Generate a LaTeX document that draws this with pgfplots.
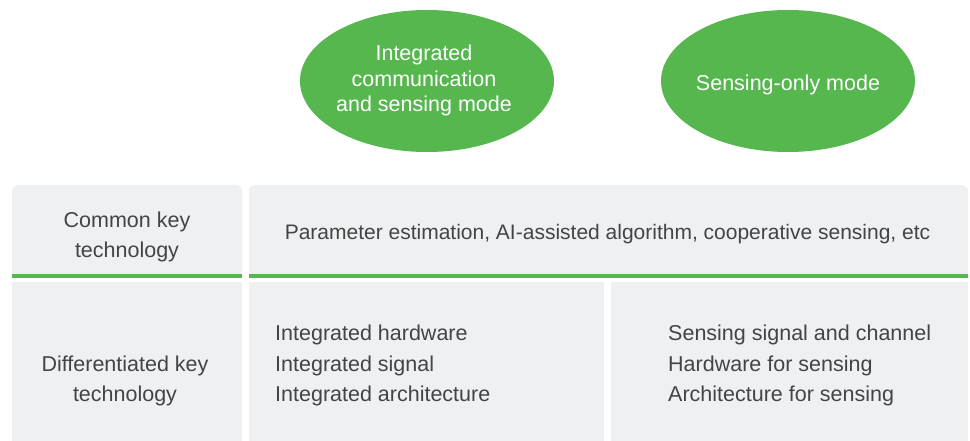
\documentclass[border=0pt]{standalone}
\usepackage{pgfplots}
\pgfplotsset{compat=1.18}
\usepackage{fontspec}
\setmainfont{Liberation Sans}
\definecolor{gfill}{HTML}{EFF0F2}
\definecolor{grn}{HTML}{55B74E}
\definecolor{txt}{HTML}{444444}
\begin{document}
\begin{tikzpicture}
\begin{axis}[width=970pt,height=441pt,scale only axis,
  xmin=0,xmax=970,ymin=0,ymax=441,y dir=reverse,
  axis lines=none,clip=false]
\path (axis cs:0,0) rectangle (axis cs:970,441);
% ellipses
\fill[grn] (axis cs:427,81) ellipse [x radius=127,y radius=71];
\fill[grn] (axis cs:788,81) ellipse [x radius=127,y radius=71];
% table cells
\fill[gfill] (axis cs:12,274) [rounded corners=6pt] -- (axis cs:12,185) -- (axis cs:242,185) [sharp corners] -- (axis cs:242,274) -- cycle;
\fill[gfill] (axis cs:249,274) [rounded corners=6pt] -- (axis cs:249,185) -- (axis cs:968,185) [sharp corners] -- (axis cs:968,274) -- cycle;
\fill[gfill] (axis cs:12,282) rectangle (axis cs:242,441);
\fill[gfill] (axis cs:249,282) rectangle (axis cs:604,441);
\fill[gfill] (axis cs:611,282) rectangle (axis cs:968,441);
\fill[grn] (axis cs:12,274) rectangle (axis cs:242,277.5);
\fill[grn] (axis cs:249,274) rectangle (axis cs:968,277.5);
% texts
\begin{scope}[every node/.style={inner sep=0pt,text=txt,font=\fontsize{21.5}{24}\selectfont}]
\node[anchor=base] at (axis cs:127,227) {Common key};
\node[anchor=base] at (axis cs:127,257.5) {technology};
\node[anchor=base,font=\fontsize{21}{24}\selectfont] at (axis cs:607.5,240) {Parameter estimation, AI-assisted algorithm, cooperative sensing, etc};
\node[anchor=base] at (axis cs:125,371) {Differentiated key};
\node[anchor=base] at (axis cs:125,401.5) {technology};
\node[anchor=base west] at (axis cs:275,340.5) {Integrated hardware};
\node[anchor=base west] at (axis cs:275,371) {Integrated signal};
\node[anchor=base west] at (axis cs:275,401.5) {Integrated architecture};
\node[anchor=base west] at (axis cs:668,340.5) {Sensing signal and channel};
\node[anchor=base west] at (axis cs:668,371) {Hardware for sensing};
\node[anchor=base west] at (axis cs:668,401.5) {Architecture for sensing};
\end{scope}
\begin{scope}[every node/.style={inner sep=0pt,text=white,font=\fontsize{21.5}{24}\selectfont}]
\node[anchor=base] at (axis cs:424,61) {Integrated};
\node[anchor=base] at (axis cs:424,87) {communication};
\node[anchor=base] at (axis cs:424,112) {and sensing mode};
\node[anchor=base] at (axis cs:788,91) {Sensing-only mode};
\end{scope}
\end{axis}
\end{tikzpicture}
\end{document}
